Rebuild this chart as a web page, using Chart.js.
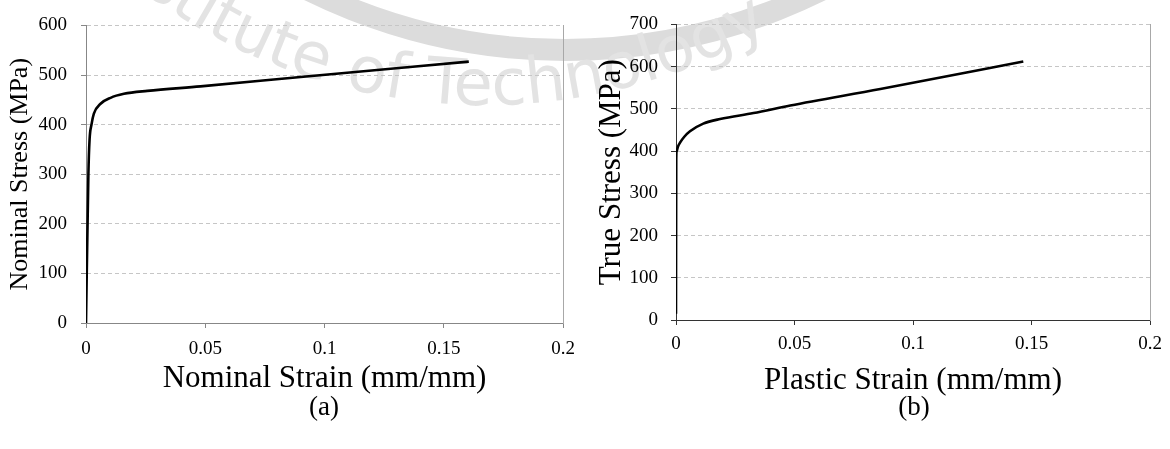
<!DOCTYPE html>
<html>
<head>
<meta charset="utf-8">
<script src="https://cdn.jsdelivr.net/npm/chart.js@4.4.1/dist/chart.umd.min.js"></script>
<style>
  html, body { margin: 0; padding: 0; background: #fff; }
  body { width: 1170px; height: 449px; position: relative; overflow: hidden; font-family: 'Liberation Serif', serif; }
  .mark { position: absolute; left: 0; top: 0; }
  .box { position: absolute; top: 0; width: 585px; }
  .cap { position: absolute; top: 391px; width: 100px; text-align: center; font-size: 27px; color: #000; }
</style>
</head>
<body>
<svg class="mark" width="1170" height="449">
  <defs>
    <path id="ring" d="M -87 -467 A 572 572 0 0 0 1057 -467" fill="none" />
  </defs>
  <path d="M -12 -527 A 577 577 0 0 0 1142 -527" fill="none" stroke="#dcdcdc" stroke-width="22" />
  <text font-family="DejaVu Sans" font-size="64" fill="#e3e3e3"><textPath href="#ring" startOffset="470">Institute of Technology</textPath></text>
</svg>
<div class="box" style="left:0; height:398px"><canvas id="chartA"></canvas></div>
<div class="box" style="left:585px; height:400px"><canvas id="chartB"></canvas></div>
<div class="cap" style="left:274px">(a)</div>
<div class="cap" style="left:864px">(b)</div>
<script>
// (a) nominal curve
const nominalStrain = [0, 0.001, 0.0015, 0.0023, 0.0033, 0.0061, 0.0103, 0.0159, 0.0257, 0.048, 0.09, 0.1605]
const nominalStress = [0, 300, 370, 400, 422, 442, 454, 462, 468, 477, 496, 527]
// (b) true stress vs plastic strain
const plasticStrain = [0, 0.0001, 0.0003, 0.0008, 0.0017, 0.0035, 0.0059, 0.0115, 0.0186, 0.0327, 0.0482, 0.0862, 0.1465]
const trueStress = [15, 380, 400, 410, 420, 434, 447, 465, 476, 490, 508, 547, 612]

const strainTicks = [0, 0.05, 0.1, 0.15, 0.2]
const serif = 'Liberation Serif'

function makeChart(id, xs, ys, o) {
  const pts = xs.map((x, i) => ({ x, y: ys[i] }))
  return new Chart(document.getElementById(id), {
    type: 'line',
    data: {
      datasets: [{
        data: pts,
        borderColor: '#000',
        borderWidth: 2.6,
        pointRadius: 0,
        cubicInterpolationMode: 'monotone',
        fill: false,
      }]
    },
    options: {
      responsive: true,
      maintainAspectRatio: false,
      animation: false,
      layout: { padding: { left: 0, right: 0, top: o.top, bottom: 0 } },
      plugins: { legend: { display: false }, tooltip: { enabled: false } },
      scales: {
        x: {
          type: 'linear', min: 0, max: 0.2,
          afterBuildTicks: s => { s.ticks = strainTicks.map(v => ({ value: v })) },
          afterFit: s => { s.height = o.xh },
          grid: { drawOnChartArea: false, drawTicks: true, tickLength: 5, tickColor: o.axis },
          border: { color: o.axis, width: 1 },
          ticks: { color: '#000', padding: o.xpad, font: { family: serif, size: 19 },
                   callback: v => String(Number(v.toFixed(2))) },
          title: { display: true, text: o.xTitle, color: '#000',
                   font: { family: serif, size: 31 }, padding: { top: 0, bottom: o.xtp } }
        },
        y: {
          min: 0, max: o.ymax,
          ticks: { stepSize: 100, color: '#000', padding: o.ypad, font: { family: serif, size: 19 } },
          afterFit: s => { s.width = o.yw },
          grid: { color: '#c6c6c6', lineWidth: 1, tickLength: 5, tickColor: o.axis },
          border: { color: o.axis, width: 1, dash: [4, 3] },
          title: { display: true, text: o.yTitle, color: '#000',
                   font: { family: serif, size: o.yfs }, padding: { top: o.ytp, bottom: 0 } }
        },
        yr: {
          position: 'right', min: 0, max: o.ymax,
          afterFit: s => { s.width = o.rw },
          ticks: { display: false },
          grid: { display: false },
          border: { color: '#a8a8a8', width: 1 }
        }
      }
    }
  })
}

makeChart('chartA', nominalStrain, nominalStress, {
  top: 25, xh: 75, yw: 86, rw: 22, ymax: 600, axis: '#878787',
  xpad: 10, ypad: 14, ytp: 5, yfs: 26, xtp: 1,
  xTitle: 'Nominal Strain (mm/mm)', yTitle: 'Nominal Stress (MPa)'
})
makeChart('chartB', plasticStrain, trueStress, {
  top: 22, xh: 80, yw: 91, rw: 19, ymax: 700, axis: '#333',
  xpad: 8, ypad: 13, ytp: 8, yfs: 31, xtp: 1,
  xTitle: 'Plastic Strain (mm/mm)', yTitle: 'True Stress (MPa)'
})
</script>
</body>
</html>
